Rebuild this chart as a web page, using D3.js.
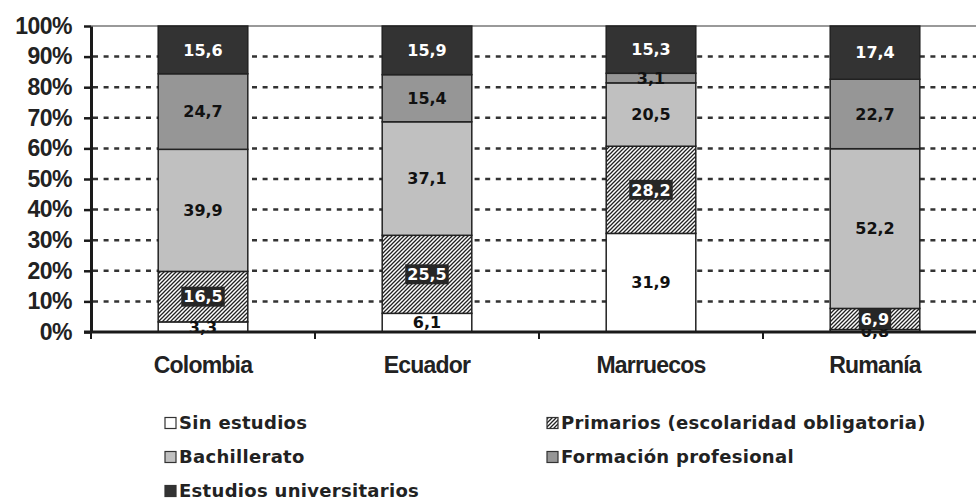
<!DOCTYPE html>
<html>
<head>
<meta charset="utf-8">
<script src="https://cdn.jsdelivr.net/npm/d3@7"></script>
<style>
  html, body { margin: 0; padding: 0; background: #fff; }
  svg { display: block; }
</style>
</head>
<body>
<svg id="chart" width="976" height="502"></svg>
<script>
// Nivel de estudios por país de origen (%)
const categories = ["Colombia", "Ecuador", "Marruecos", "Rumanía"];
const seriesNames = [
  "Sin estudios",
  "Primarios (escolaridad obligatoria)",
  "Bachillerato",
  "Formación profesional",
  "Estudios universitarios"
];
const sinEstudios    = [3.3, 6.1, 31.9, 0.8];
const primarios      = [16.5, 25.5, 28.2, 6.9];
const bachillerato   = [39.9, 37.1, 20.5, 52.2];
const formacionProf  = [24.7, 15.4, 3.1, 22.7];
const universitarios = [15.6, 15.9, 15.3, 17.4];
const yTicks = [0, 0.1, 0.2, 0.3, 0.4, 0.5, 0.6, 0.7, 0.8, 0.9, 1];

const seriesValues = [sinEstudios, primarios, bachillerato, formacionProf, universitarios];
const keys = ["s0", "s1", "s2", "s3", "s4"];
const rows = categories.map((c, i) => {
  const r = { country: c };
  keys.forEach((k, j) => { r[k] = seriesValues[j][i]; });
  return r;
});

const fills = ["#ffffff", "url(#hatch)", "#c0c0c0", "#969696", "#333333"];
const labelFill = ["#111", "#fff", "#111", "#111", "#fff"];
const labelBox = [false, true, false, false, false];

const W = 976, H = 502;
const plot = { left: 91, top: 26, bottom: 332, right: 987 };

const svg = d3.select("#chart");

const defs = svg.append("defs");
const pat = defs.append("pattern")
  .attr("id", "hatch")
  .attr("patternUnits", "userSpaceOnUse")
  .attr("width", 4).attr("height", 4);
pat.append("rect").attr("width", 4).attr("height", 4).attr("fill", "#fff");
pat.append("path")
  .attr("d", "M-1,1 l2,-2 M0,4 l4,-4 M3,5 l2,-2")
  .attr("stroke", "#222").attr("stroke-width", 1.3);

const x = d3.scaleBand()
  .domain(categories)
  .range([plot.left, plot.right])
  .paddingInner(0.6)
  .paddingOuter(0.3);

const y = d3.scaleLinear().domain([0, 1]).range([plot.bottom, plot.top]);

const stacked = d3.stack().keys(keys).offset(d3.stackOffsetExpand)(rows);

const locale = d3.formatLocale({ decimal: ",", thousands: ".", grouping: [3], currency: ["", "€"] });
const fmt = locale.format(".1f");

// Gridlines
svg.append("g")
  .selectAll("line")
  .data(yTicks.filter(t => t > 0 && t < 1))
  .join("line")
  .attr("x1", plot.left + 2).attr("x2", W)
  .attr("y1", d => y(d)).attr("y2", d => y(d))
  .attr("stroke", "#333")
  .attr("stroke-width", 2.5)
  .attr("stroke-dasharray", "5,5.6");

// Top border of the plot area
svg.append("line")
  .attr("x1", plot.left).attr("x2", W)
  .attr("y1", y(1)).attr("y2", y(1))
  .attr("stroke", "#999").attr("stroke-width", 2);

// Stacked bars
const layers = svg.append("g")
  .selectAll("g")
  .data(stacked)
  .join("g")
  .attr("fill", (d, i) => fills[i]);

layers.selectAll("rect")
  .data(d => d)
  .join("rect")
  .attr("x", d => x(d.data.country))
  .attr("width", x.bandwidth())
  .attr("y", d => y(d[1]))
  .attr("height", d => y(d[0]) - y(d[1]))
  .attr("stroke", "#222")
  .attr("stroke-width", 1.5);

// Value labels
const labelG = svg.append("g")
  .attr("font-family", "'DejaVu Sans', sans-serif")
  .attr("font-weight", "bold")
  .attr("font-size", 16)
  .attr("text-anchor", "middle");

stacked.forEach((layer, si) => {
  layer.forEach((d, ci) => {
    const cx = x(d.data.country) + x.bandwidth() / 2;
    const cy = y((d[0] + d[1]) / 2);
    const g = labelG.append("g");
    const t = g.append("text")
      .attr("x", cx).attr("y", cy).attr("dy", "0.36em")
      .attr("fill", labelFill[si])
      .text(fmt(seriesValues[si][ci]));
    if (labelBox[si]) {
      const w = t.node().getComputedTextLength();
      g.insert("rect", "text")
        .attr("x", cx - w / 2 - 2).attr("y", cy - 10)
        .attr("width", w + 4).attr("height", 20)
        .attr("fill", "#262626");
    }
  });
});

// Y axis
const yAxis = d3.axisLeft(y)
  .tickValues(yTicks)
  .tickFormat(d3.format(".0%"))
  .tickSize(7)
  .tickSizeOuter(0)
  .tickPadding(12);

const yg = svg.append("g")
  .attr("transform", `translate(${plot.left},0)`)
  .call(yAxis);
yg.select(".domain").attr("stroke", "#1a1a1a").attr("stroke-width", 3);
yg.selectAll(".tick line").attr("stroke", "#1a1a1a").attr("stroke-width", 2.5);
yg.selectAll(".tick text")
  .attr("font-family", "'Liberation Sans', Arial, sans-serif")
  .attr("font-weight", "bold")
  .attr("font-size", 23)
  .attr("letter-spacing", -0.5)
  .attr("fill", "#222");

// X axis line and boundary ticks
svg.append("line")
  .attr("x1", plot.left - 7).attr("x2", W)
  .attr("y1", plot.bottom).attr("y2", plot.bottom)
  .attr("stroke", "#1a1a1a").attr("stroke-width", 3);

const gap = x.step() - x.bandwidth();
const bounds = categories.map(c => x(c) - gap / 2).concat([x(categories[categories.length - 1]) + x.bandwidth() + gap / 2]);
svg.append("g")
  .selectAll("line")
  .data(bounds)
  .join("line")
  .attr("x1", d => d).attr("x2", d => d)
  .attr("y1", plot.bottom).attr("y2", plot.bottom + 7)
  .attr("stroke", "#1a1a1a").attr("stroke-width", 2);

// Category labels
svg.append("g")
  .selectAll("text")
  .data(categories)
  .join("text")
  .attr("x", d => x(d) + x.bandwidth() / 2)
  .attr("y", 373)
  .attr("text-anchor", "middle")
  .attr("font-family", "'Liberation Sans', Arial, sans-serif")
  .attr("font-weight", "bold")
  .attr("font-size", 23)
  .attr("letter-spacing", -0.8)
  .attr("fill", "#222")
  .text(d => d);

// Legend
const legCols = [165, 547];
const legend = svg.append("g")
  .selectAll("g")
  .data(seriesNames)
  .join("g")
  .attr("transform", (d, i) => `translate(${legCols[i % 2]},${423 + Math.floor(i / 2) * 34})`);

legend.append("rect")
  .attr("x", 0).attr("y", -5.5)
  .attr("width", 11).attr("height", 11)
  .attr("fill", (d, i) => fills[i])
  .attr("stroke", "#333").attr("stroke-width", 1.2);

legend.append("text")
  .attr("x", 14)
  .attr("dy", "0.36em")
  .attr("font-family", "'DejaVu Sans', sans-serif")
  .attr("font-weight", "bold")
  .attr("font-size", 18)
  .attr("letter-spacing", 0.3)
  .attr("fill", "#222")
  .text(d => d);
</script>
</body>
</html>
